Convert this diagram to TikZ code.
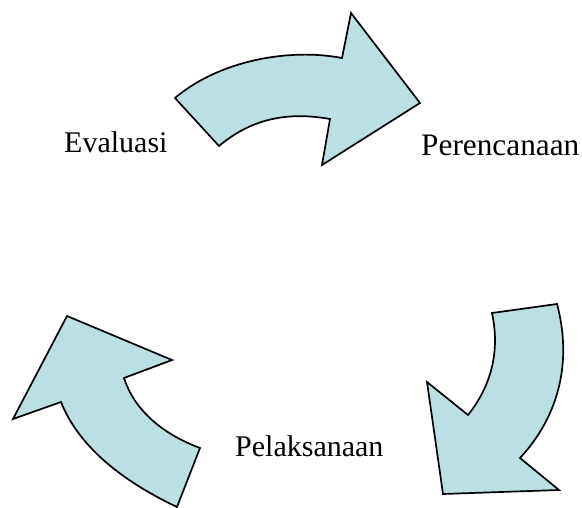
\documentclass[tikz,border=0pt]{standalone}
\usepackage{fontspec}
\setmainfont{Liberation Serif}
\begin{document}
\begin{tikzpicture}[x=1pt,y=-1pt,
  cyclearrow/.style={draw=black,line width=1.7pt,line join=miter,fill=arrowfill},
  lbl/.style={anchor=base west,inner sep=0pt,font=\fontsize{30}{36}\selectfont}]
\definecolor{arrowfill}{RGB}{187,224,227}
\useasboundingbox (0,0) rectangle (582,508);
% top arrow
\draw[cyclearrow] (175,98) .. controls (220,60) and (290,48) .. (342,58)
  -- (351,13) -- (420,103) -- (322,165) -- (330,119)
  .. controls (285,111) and (250,120) .. (219,146) -- cycle;
% right arrow
\draw[cyclearrow] (492,313) -- (557,304)
  .. controls (572,360) and (560,415) .. (520,458)
  -- (559,490) -- (443,494) -- (427,382) -- (468,415)
  .. controls (492,385) and (500,350) .. cycle;
% left arrow
\draw[cyclearrow] (67,316) -- (172,360) -- (124,378)
  .. controls (135,412) and (165,435) .. (200,448)
  -- (177,507)
  .. controls (120,480) and (78,445) .. (61,402)
  -- (13,419) -- cycle;
\node[lbl] (eval) at (64,153) {Evaluasi};
\node[lbl,font=\fontsize{31.3}{36}\selectfont] (renc) at (421,156) {Perencanaan};
\node[lbl] (pel) at (235,456) {Pelaksanaan};
\end{tikzpicture}
\end{document}
